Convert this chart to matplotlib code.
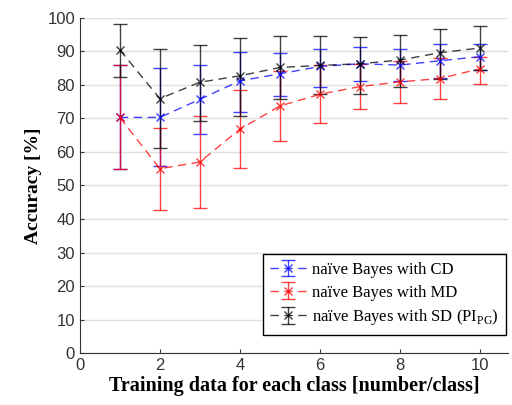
import numpy as np
import matplotlib
matplotlib.use("Agg")
import matplotlib.pyplot as plt

# training data per class
n_train = [1, 2, 3, 4, 5, 6, 7, 8, 9, 10]

# naive Bayes with CD
cd_mean = [70.3, 70.3, 75.7, 81.2, 83.3, 85.5, 86.3, 85.9, 87.2, 88.4]
cd_low = [55.0, 55.9, 65.3, 71.9, 76.7, 79.3, 81.3, 81.2, 82.0, 84.5]
cd_high = [85.8, 85.0, 85.8, 89.8, 89.5, 90.6, 91.2, 90.6, 92.2, 92.1]

# naive Bayes with MD
md_mean = [70.3, 55.0, 57.0, 66.8, 73.7, 77.2, 79.5, 80.9, 81.9, 84.8]
md_low = [55.0, 42.7, 43.3, 55.3, 63.4, 68.5, 72.8, 74.6, 75.8, 80.3]
md_high = [85.8, 67.1, 70.7, 78.5, 84.0, 86.0, 86.3, 87.2, 88.0, 88.4]

# naive Bayes with SD (PI_PG)
sd_mean = [90.4, 75.9, 80.8, 82.7, 85.2, 85.8, 86.3, 87.4, 89.6, 91.0]
sd_low = [82.5, 61.1, 69.2, 70.7, 75.7, 77.3, 77.4, 79.3, 81.9, 84.5]
sd_high = [98.2, 90.6, 91.9, 94.0, 94.6, 94.6, 94.2, 94.9, 96.6, 97.6]

labels = ["naïve Bayes with CD", "naïve Bayes with MD",
          "naïve Bayes with SD (PI$_{\\mathrm{PG}}$)"]

plt.rcParams["mathtext.fontset"] = "custom"
plt.rcParams["mathtext.rm"] = "Liberation Serif"

fig = plt.figure(figsize=(5.12, 4.05), dpi=100)
ax = fig.add_axes([0.156, 0.128, 0.836, 0.828])

series = [
    (cd_mean, cd_low, cd_high, "blue"),
    (md_mean, md_low, md_high, "red"),
    (sd_mean, sd_low, sd_high, "black"),
]

handles = []
for (m, lo, hi, col), lab in zip(series, labels):
    m = np.array(m)
    yerr = [m - np.array(lo), np.array(hi) - m]
    h = ax.errorbar(n_train, m, yerr=yerr, color=col, ecolor=col, elinewidth=1,
                    capsize=5, capthick=1, linestyle=(0, (6, 4)), linewidth=1,
                    marker="x", markersize=6, alpha=0.75, label=lab)
    handles.append(h)

ax.set_xlim(0, 10.7)
ax.set_ylim(0, 100)
ax.set_xticks([0, 2, 4, 6, 8, 10])
ax.set_yticks(np.arange(0, 101, 10))
ax.yaxis.grid(True, color="#e0e0e0", linewidth=1)
ax.set_axisbelow(True)
ax.spines["top"].set_visible(False)
ax.spines["right"].set_visible(False)
ax.spines["left"].set_color("#333333")
ax.spines["bottom"].set_color("#333333")
ax.tick_params(direction="in", labelsize=12, colors="#333333", length=3)
for t in ax.get_xticklabels() + ax.get_yticklabels():
    t.set_family("Liberation Sans")

ax.set_xlabel("Training data for each class [number/class]", family="Liberation Serif",
              fontweight="bold", fontsize=14.5, labelpad=2)
ax.set_ylabel("Accuracy [%]", family="Liberation Serif", fontweight="bold",
              fontsize=14, labelpad=4)

leg = ax.legend(handles=handles, loc="lower right", bbox_to_anchor=(1.015, 0.03),
                prop={"family": "Liberation Serif", "size": 12}, frameon=True,
                fancybox=False, edgecolor="black", framealpha=1,
                handlelength=2.2, handletextpad=0.3, borderpad=0.45,
                labelspacing=0.4)
leg.get_frame().set_linewidth(1)

fig.savefig("out.png", dpi=100)
